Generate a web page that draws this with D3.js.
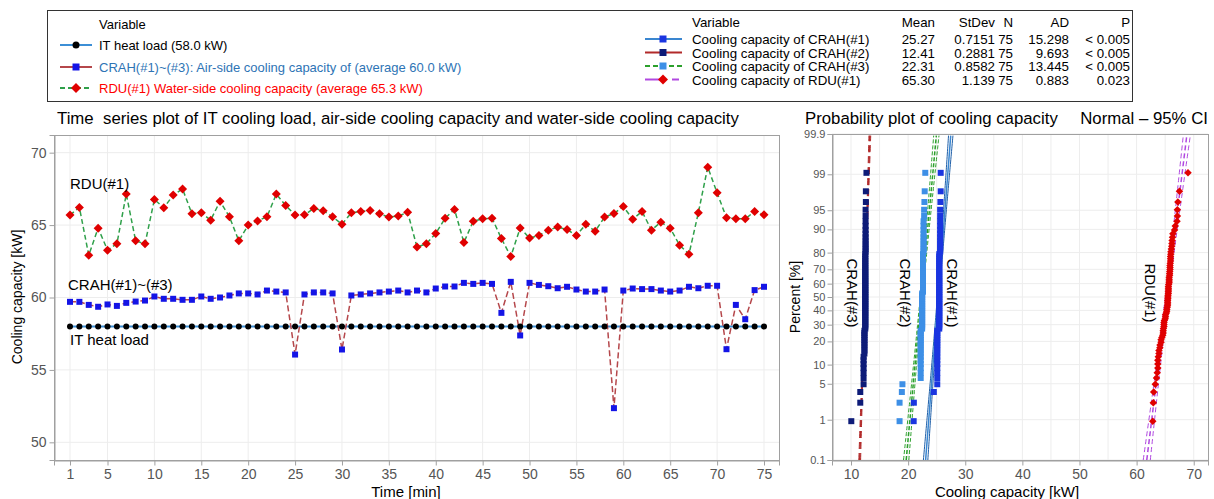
<!DOCTYPE html>
<html>
<head>
<meta charset="utf-8">
<script src="https://cdn.jsdelivr.net/npm/d3@7"></script>
<style>
  body { margin: 0; background: #fff; }
  svg { font-family: "Liberation Sans", Arial, sans-serif; }
</style>
</head>
<body>
<svg id="chart" width="1214" height="499"></svg>
<script>
// ---------- data ----------
var minutes = d3.range(1, 76);
var itLoad = [58.0,58.0,58.0,58.0,58.0,58.0,58.0,58.0,58.0,58.0,58.0,58.0,58.0,58.0,58.0,
  58.0,58.0,58.0,58.0,58.0,58.0,58.0,58.0,58.0,58.0,58.0,58.0,58.0,58.0,58.0,
  58.0,58.0,58.0,58.0,58.0,58.0,58.0,58.0,58.0,58.0,58.0,58.0,58.0,58.0,58.0,
  58.0,58.0,58.0,58.0,58.0,58.0,58.0,58.0,58.0,58.0,58.0,58.0,58.0,58.0,58.0,
  58.0,58.0,58.0,58.0,58.0,58.0,58.0,58.0,58.0,58.0,58.0,58.0,58.0,58.0,58.0];
var crahTotal = [59.70,59.70,59.49,59.36,59.52,59.42,59.63,59.72,59.79,60.07,59.91,59.91,59.84,59.84,60.07,
  59.91,60.00,60.14,60.28,60.28,60.21,60.48,60.41,60.35,56.06,60.21,60.35,60.35,60.28,56.41,
  60.14,60.21,60.28,60.35,60.41,60.48,60.35,60.48,60.35,60.62,60.76,60.76,61.01,60.94,61.01,
  60.94,58.94,61.08,57.38,61.01,60.87,60.78,60.64,60.74,60.55,60.41,60.41,60.55,52.36,60.48,
  60.62,60.58,60.58,60.48,60.41,60.48,60.74,60.64,60.81,60.81,56.43,59.49,58.50,60.51,60.74];
var rdu = [65.69,66.22,62.92,64.79,63.27,63.71,67.14,63.91,63.71,66.77,66.19,67.07,67.50,65.78,65.85,
  65.34,66.65,65.57,63.91,65.00,65.29,65.57,67.14,66.35,65.70,65.71,66.15,65.99,65.57,65.06,
  65.85,65.94,66.01,65.78,65.55,65.62,65.89,63.48,63.71,64.42,65.48,66.08,63.80,65.27,65.43,
  65.48,64.07,62.83,64.80,64.10,64.28,64.65,64.86,64.70,64.28,65.06,64.58,65.55,65.80,66.28,
  65.41,65.94,64.65,65.20,64.79,63.61,62.99,65.85,69.00,67.23,65.50,65.43,65.43,65.94,65.71];

// sorted unit readings used by the probability plot
var crah1Sorted = [20.97,21.00,24.50,
  25.10,25.10,25.10,25.10,25.10,25.10,25.10,25.10,25.10,25.10,25.10,25.10,25.10,25.10,25.10,25.10,25.10,
  25.45,25.45,25.45,25.45,25.45,25.45,25.45,25.45,25.45,25.45,25.45,25.45,25.45,25.45,25.45,25.45,25.45,25.45,25.45,25.45,
  25.45,25.45,25.45,25.45,25.45,25.45,25.45,25.45,25.45,25.45,25.45,25.45,25.45,25.45,25.45,25.45,25.45,25.45,25.45,25.45,
  25.60,25.60,25.60,25.60,25.60,25.60,25.60,25.60,25.60,25.60,25.60,25.60,
  25.65,25.70,25.70];
var crah2Sorted = [10.05,11.62,11.62,
  12.20,12.20,12.20,12.20,12.20,12.20,12.20,
  12.35,12.35,12.35,12.35,12.35,12.35,12.35,12.35,12.35,12.35,
  12.50,12.50,12.50,12.50,12.50,12.50,12.50,12.50,12.50,12.50,12.50,12.50,12.50,12.50,12.50,12.50,12.50,12.50,12.50,12.50,
  12.50,12.50,12.50,12.50,12.50,12.50,12.50,12.50,12.50,12.50,12.50,12.50,12.50,12.50,12.50,12.50,12.50,12.50,12.50,12.50,
  12.55,12.55,12.55,12.55,12.55,12.55,12.55,12.55,12.55,12.55,12.55,12.55,
  12.60,12.60,12.70];
var crah3Sorted = [18.50,18.50,18.90,19.00,
  22.20,22.20,22.20,22.20,22.20,22.20,22.20,22.20,22.20,22.20,22.20,22.20,22.20,22.20,22.20,22.20,
  22.45,22.45,22.45,22.45,22.45,22.45,22.45,22.45,22.45,22.45,22.45,22.45,22.45,22.45,22.45,22.45,22.45,22.45,22.45,22.45,
  22.60,22.60,22.60,22.60,22.60,22.60,22.60,22.60,22.60,22.60,22.60,22.60,22.60,22.60,22.60,22.60,22.60,22.60,22.60,22.60,
  22.70,22.70,22.70,22.70,22.70,22.70,22.70,22.70,22.70,22.70,
  22.80,22.80,22.85,22.90,23.00];

var statNames = ["Cooling capacity of CRAH(#1)", "Cooling capacity of CRAH(#2)",
                 "Cooling capacity of CRAH(#3)", "Cooling capacity of RDU(#1)"];
var statMean  = ["25.27", "12.41", "22.31", "65.30"];
var statStDev = ["0.7151", "0.2881", "0.8582", "1.139"];
var statN     = ["75", "75", "75", "75"];
var statAD    = ["15.298", "9.693", "13.445", "0.883"];
var statP     = ["< 0.005", "< 0.005", "< 0.005", "0.023"];

var leftLegendLabels = ["IT heat load (58.0 kW)",
  "CRAH(#1)~(#3): Air-side cooling capacity of (average 60.0 kW)",
  "RDU(#1) Water-side cooling capacity (average 65.3 kW)"];

var timeTicks = [1, 5, 10, 15, 20, 25, 30, 35, 40, 45, 50, 55, 60, 65, 70, 75];
var kwTicks = [50, 55, 60, 65, 70];
var pctTicks = [0.1, 1, 5, 10, 20, 30, 40, 50, 60, 70, 80, 90, 95, 99, 99.9];
var capTicks = [10, 20, 30, 40, 50, 60, 70];

// ---------- helpers ----------
var svg = d3.select("#chart");
var gridCol = "#ededed", axisCol = "#a0a0a0", tickTxt = "#555";

function normInv(p) {
  var a = [-3.969683028665376e+01, 2.209460984245205e+02, -2.759285104469687e+02, 1.383577518672690e+02, -3.066479806614716e+01, 2.506628277459239e+00];
  var b = [-5.447609879822406e+01, 1.615858368580409e+02, -1.556989798598866e+02, 6.680131188771972e+01, -1.328068155288572e+01];
  var c = [-7.784894002430293e-03, -3.223964580411365e-01, -2.400758277161838e+00, -2.549732539343734e+00, 4.374664141464968e+00, 2.938163982698783e+00];
  var d = [7.784695709041462e-03, 3.224671290700398e-01, 2.445134137142996e+00, 3.754408661907416e+00];
  var q, r;
  if (p < 0.02425) {
    q = Math.sqrt(-2 * Math.log(p));
    return (((((c[0]*q+c[1])*q+c[2])*q+c[3])*q+c[4])*q+c[5]) / ((((d[0]*q+d[1])*q+d[2])*q+d[3])*q+1);
  }
  if (p > 1 - 0.02425) {
    q = Math.sqrt(-2 * Math.log(1 - p));
    return -(((((c[0]*q+c[1])*q+c[2])*q+c[3])*q+c[4])*q+c[5]) / ((((d[0]*q+d[1])*q+d[2])*q+d[3])*q+1);
  }
  q = p - 0.5; r = q * q;
  return (((((a[0]*r+a[1])*r+a[2])*r+a[3])*r+a[4])*r+a[5])*q / (((((b[0]*r+b[1])*r+b[2])*r+b[3])*r+b[4])*r+1);
}

// marker shapes: circle, square, diamond (rotated square)
function symPath(type, s) {
  if (type === "circle") return d3.symbol().type(d3.symbolCircle).size(Math.PI * s * s / 4)();
  return d3.symbol().type(d3.symbolSquare).size(s * s)();
}
function drawMarkers(g, pts, type, s, fill) {
  var ss = type === "diamond" ? s / Math.SQRT2 : s;
  g.selectAll(null).data(pts).enter().append("path")
    .attr("d", symPath(type, ss))
    .attr("transform", function(d) {
      return "translate(" + d[0] + "," + d[1] + ")" + (type === "diamond" ? " rotate(45)" : "");
    })
    .attr("fill", fill);
}

// ---------- legend box ----------
svg.append("rect").attr("x", 47.5).attr("y", 10.5).attr("width", 1085).attr("height", 91)
  .attr("fill", "none").attr("stroke", "#333");

var lg = svg.append("g").attr("font-size", "13px");
lg.append("text").attr("x", 99).attr("y", 29).text("Variable");
var leftStyle = [
  {line: "#3c8fd6", mk: "circle", mcol: "#000", s: 7, tcol: "#000"},
  {line: "#b5474b", mk: "square", mcol: "#1414e6", s: 7, tcol: "#2e74b5"},
  {line: "#2fa04a", mk: "diamond", mcol: "#e00000", s: 10, tcol: "#ff0000"}
];
var leftRowY = [45, 67, 88];
leftLegendLabels.forEach(function(lab, i) {
  var st = leftStyle[i], y = leftRowY[i];
  lg.append("line").attr("x1", 60).attr("x2", 92).attr("y1", y).attr("y2", y)
    .attr("stroke", st.line).attr("stroke-width", 2)
    .attr("stroke-dasharray", i === 2 ? "5,3" : null);
  drawMarkers(lg, [[76, y]], st.mk, st.s, st.mcol);
  lg.append("text").attr("x", 99).attr("y", y + 5).attr("fill", st.tcol).text(lab);
});

var rg = svg.append("g").attr("font-size", "13.3px");
rg.append("text").attr("x", 692).attr("y", 27).text("Variable");
var cols = [
  {x: 935, head: "Mean", vals: statMean},
  {x: 995, head: "StDev", vals: statStDev},
  {x: 1013, head: "N", vals: statN},
  {x: 1069, head: "AD", vals: statAD},
  {x: 1130, head: "P", vals: statP}
];
cols.forEach(function(c) {
  rg.append("text").attr("x", c.x).attr("y", 27).attr("text-anchor", "end").text(c.head);
});
var probStyle = [
  {line: "#3a86d0", ci: "#1f5fa8", dash: null, mk: "square", mcol: "#1a35e0", s: 6},
  {line: "#b22a2a", ci: "#b22a2a", dash: "7,4", mk: "square", mcol: "#0d1b78", s: 6},
  {line: "#2ca02c", ci: "#2ca02c", dash: "4,2", mk: "square", mcol: "#3d8fe6", s: 6},
  {line: "#b048e0", ci: "#b048e0", dash: "5,3", mk: "diamond", mcol: "#e00000", s: 7.5}
];
var rightRowY = [39, 52.5, 66, 79.5];
statNames.forEach(function(name, i) {
  var st = probStyle[i], y = rightRowY[i];
  if (i === 3) {
    rg.append("line").attr("x1", 645).attr("x2", 660).attr("y1", y).attr("y2", y)
      .attr("stroke", st.line).attr("stroke-width", 2);
    rg.append("line").attr("x1", 672).attr("x2", 679).attr("y1", y).attr("y2", y)
      .attr("stroke", st.line).attr("stroke-width", 2);
  } else {
    rg.append("line").attr("x1", 645).attr("x2", 682).attr("y1", y).attr("y2", y)
      .attr("stroke", st.line).attr("stroke-width", 2)
      .attr("stroke-dasharray", i === 2 ? "5,3" : null);
  }
  drawMarkers(rg, [[663, y]], st.mk, i === 3 ? 10 : 7, st.mcol);
  rg.append("text").attr("x", 692).attr("y", y + 5).text(name);
  cols.forEach(function(c) {
    rg.append("text").attr("x", c.x).attr("y", y + 5).attr("text-anchor", "end").text(c.vals[i]);
  });
});

// ---------- time series panel ----------
var L = {x0: 54, x1: 779, y0: 135, y1: 460};
var xT = d3.scaleLinear().domain([-0.706, 76.6]).range([L.x0, L.x1]);
var yT = d3.scaleLinear().domain([48.78, 71.22]).range([L.y1, L.y0]);

svg.append("text").attr("x", 57).attr("y", 124).attr("font-size", "16.8px")
  .text("Time  series plot of IT cooling load, air-side cooling capacity and water-side cooling capacity")
  .attr("xml:space", "preserve").style("white-space", "pre");

var tg = svg.append("g");
tg.selectAll(null).data(timeTicks).enter().append("line")
  .attr("x1", xT).attr("x2", xT).attr("y1", L.y0).attr("y2", L.y1)
  .attr("stroke", gridCol);
tg.selectAll(null).data(kwTicks).enter().append("line")
  .attr("x1", L.x0).attr("x2", L.x1).attr("y1", yT).attr("y2", yT)
  .attr("stroke", gridCol);
tg.append("rect").attr("x", L.x0 + 0.5).attr("y", L.y0 + 0.5)
  .attr("width", L.x1 - L.x0).attr("height", L.y1 - L.y0)
  .attr("fill", "none").attr("stroke", axisCol);

var xAxT = tg.append("g").attr("transform", "translate(0," + (L.y1 + 0.5) + ")")
  .call(d3.axisBottom(xT).tickValues(timeTicks).tickSize(5).tickPadding(4));
var yAxT = tg.append("g").attr("transform", "translate(" + (L.x0 + 0.5) + ",0)")
  .call(d3.axisLeft(yT).tickValues(kwTicks).tickSize(5).tickPadding(3));
[xAxT, yAxT].forEach(function(a) {
  a.select(".domain").attr("stroke", axisCol);
  a.selectAll(".tick line").attr("stroke", axisCol);
  a.selectAll(".tick text").attr("fill", tickTxt).attr("font-size", "14px")
    .attr("font-family", "Liberation Sans, Arial, sans-serif");
});

tg.append("text").attr("transform", "translate(22,297) rotate(-90)")
  .attr("text-anchor", "middle").attr("font-size", "14px").text("Cooling capacity [kW]");
tg.append("text").attr("x", 406).attr("y", 497)
  .attr("text-anchor", "middle").attr("font-size", "15px").text("Time [min]");

function pts(vals) { return vals.map(function(v, i) { return [xT(minutes[i]), yT(v)]; }); }
var line = d3.line();

tg.append("path").attr("d", line(pts(itLoad))).attr("fill", "none")
  .attr("stroke", "#3c8fd6").attr("stroke-width", 2);
tg.append("path").attr("d", line(pts(crahTotal))).attr("fill", "none")
  .attr("stroke", "#b5474b").attr("stroke-width", 1.5).attr("stroke-dasharray", "6,3");
tg.append("path").attr("d", line(pts(rdu))).attr("fill", "none")
  .attr("stroke", "#2fa04a").attr("stroke-width", 1.5).attr("stroke-dasharray", "5,3");

drawMarkers(tg, pts(itLoad), "circle", 6, "#000");
drawMarkers(tg, pts(crahTotal), "square", 6, "#1414e6");
drawMarkers(tg, pts(rdu), "diamond", 9, "#e00000");

tg.append("text").attr("x", 70).attr("y", 189).attr("font-size", "15px").text("RDU(#1)");
tg.append("text").attr("x", 68).attr("y", 290).attr("font-size", "15px").text("CRAH(#1)~(#3)");
tg.append("text").attr("x", 70).attr("y", 345).attr("font-size", "15px").text("IT heat load");

// ---------- probability plot panel ----------
var R = {x0: 832, x1: 1208, y0: 134, y1: 460};
var xP = d3.scaleLinear().domain([6.67, 72.5]).range([R.x0, R.x1]);
var yP = d3.scaleLinear().domain([normInv(0.001), normInv(0.999)]).range([R.y1, R.y0]);

svg.append("text").attr("x", 805).attr("y", 124).attr("font-size", "16.8px")
  .text("Probability plot of cooling capacity");
svg.append("text").attr("x", 1208).attr("y", 124).attr("font-size", "16.8px")
  .attr("text-anchor", "end").text("Normal \u2013 95% CI");

var pg = svg.append("g");
pg.selectAll(null).data(d3.range(10, 75, 5)).enter().append("line")
  .attr("x1", xP).attr("x2", xP).attr("y1", R.y0).attr("y2", R.y1)
  .attr("stroke", gridCol);
pg.selectAll(null).data(pctTicks).enter().append("line")
  .attr("x1", R.x0).attr("x2", R.x1)
  .attr("y1", function(p) { return yP(normInv(p / 100)); })
  .attr("y2", function(p) { return yP(normInv(p / 100)); })
  .attr("stroke", gridCol);
pg.append("rect").attr("x", R.x0 + 0.5).attr("y", R.y0 + 0.5)
  .attr("width", R.x1 - R.x0).attr("height", R.y1 - R.y0)
  .attr("fill", "none").attr("stroke", axisCol);

var xAxP = pg.append("g").attr("transform", "translate(0," + (R.y1 + 0.5) + ")")
  .call(d3.axisBottom(xP).tickValues(capTicks).tickSize(5).tickPadding(4));
var yAxP = pg.append("g").attr("transform", "translate(" + (R.x0 + 0.5) + ",0)")
  .call(d3.axisLeft(yP).tickValues(pctTicks.map(function(p) { return normInv(p / 100); }))
    .tickFormat(function(z, i) { return pctTicks[i]; }).tickSize(5).tickPadding(2));
[xAxP, yAxP].forEach(function(a) {
  a.select(".domain").attr("stroke", axisCol);
  a.selectAll(".tick line").attr("stroke", axisCol);
  a.selectAll(".tick text").attr("fill", tickTxt)
    .attr("font-family", "Liberation Sans, Arial, sans-serif");
});
xAxP.selectAll(".tick text").attr("font-size", "14px");
yAxP.selectAll(".tick text").attr("font-size", "11px");

pg.append("text").attr("transform", "translate(800,297) rotate(-90)")
  .attr("text-anchor", "middle").attr("font-size", "14px").text("Percent [%]");
pg.append("text").attr("x", 1007).attr("y", 497)
  .attr("text-anchor", "middle").attr("font-size", "15px").text("Cooling capacity [kW]");

// fitted normal lines with 95% confidence bands
svg.append("clipPath").attr("id", "pclip").append("rect")
  .attr("x", R.x0 + 1).attr("y", R.y0 + 1).attr("width", R.x1 - R.x0 - 1).attr("height", R.y1 - R.y0 - 1);
var pin = pg.append("g").attr("clip-path", "url(#pclip)");
var zs = d3.range(normInv(0.001), normInv(0.999) + 0.001, 0.05);
var sortedSets = [crah1Sorted, crah2Sorted, crah3Sorted, rdu.slice().sort(d3.ascending)];

sortedSets.forEach(function(set, k) {
  var mu = +statMean[k], sd = +statStDev[k], n = +statN[k], st = probStyle[k];
  [-1, 0, 1].forEach(function(sgn) {
    var path = zs.map(function(z) {
      var half = 1.96 * sd * Math.sqrt(1 / n + z * z / (2 * n));
      return [xP(mu + z * sd + sgn * half), yP(z)];
    });
    pin.append("path").attr("d", line(path)).attr("fill", "none")
      .attr("stroke", sgn === 0 ? st.line : st.ci)
      .attr("stroke-width", sgn === 0 ? 1.5 : 1)
      .attr("stroke-dasharray", st.dash);
  });
});
sortedSets.forEach(function(set, k) {
  var n = set.length, st = probStyle[k];
  var p = set.map(function(v, i) { return [xP(v), yP(normInv((i + 1 - 0.3) / (n + 0.4)))]; });
  drawMarkers(pin, p, st.mk, st.s, st.mcol);
});

// rotated series labels
[["CRAH(#3)", 852], ["CRAH(#2)", 905], ["CRAH(#1)", 952], ["RDU(#1)", 1150]].forEach(function(d) {
  pg.append("text").attr("transform", "translate(" + d[1] + ",293) rotate(90)")
    .attr("text-anchor", "middle").attr("dy", "0.35em").attr("font-size", "15px").text(d[0]);
});
</script>
</body>
</html>
